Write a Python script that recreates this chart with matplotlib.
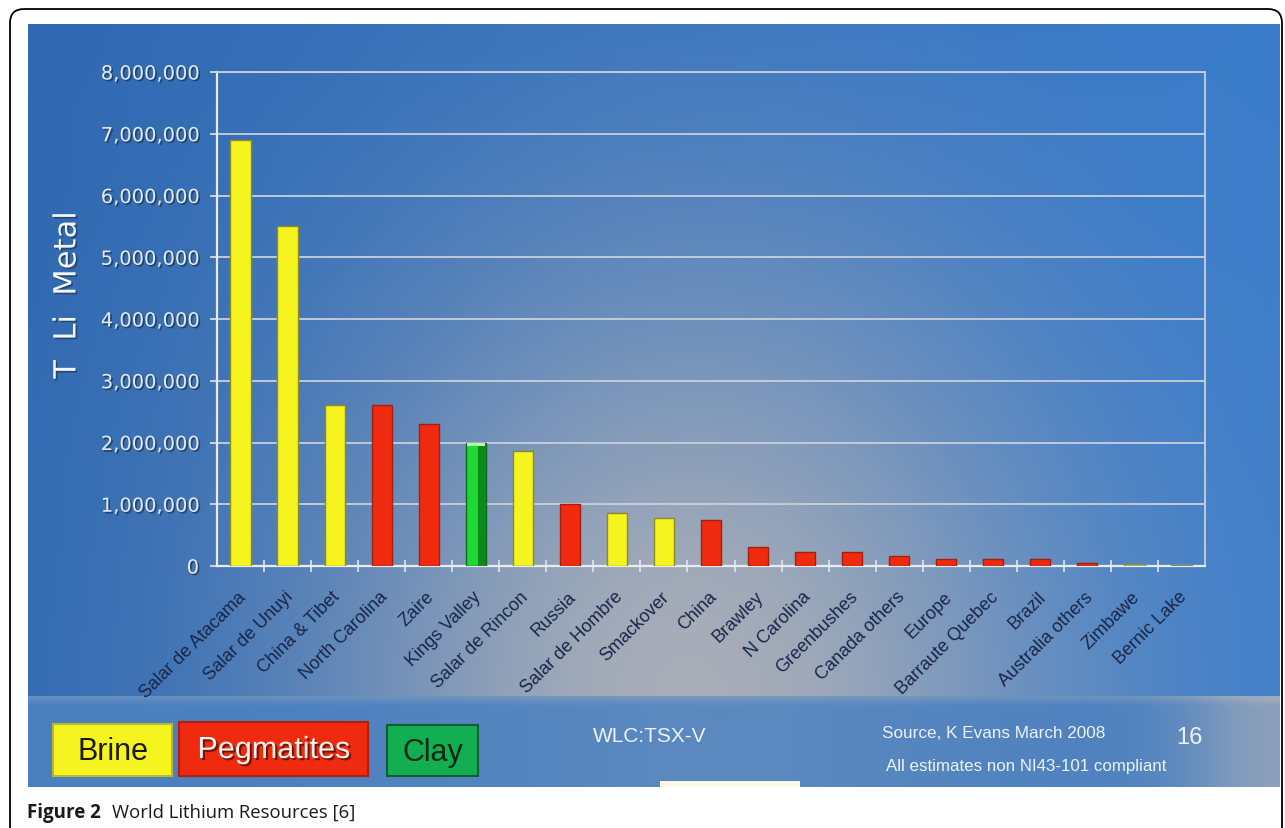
import numpy as np
import matplotlib
matplotlib.use("Agg")
import matplotlib.pyplot as plt
from matplotlib.patches import Rectangle, FancyBboxPatch
from matplotlib.transforms import ScaledTranslation
import matplotlib.patheffects as pe
from matplotlib.ticker import FuncFormatter, FixedLocator

# ---------------- data ----------------
categories = ["Salar de Atacama", "Salar de Unuyi", "China & Tibet", "North Carolina",
              "Zaire", "Kings Valley", "Salar de Rincon", "Russia", "Salar de Hombre",
              "Smackover", "China", "Brawley", "N Carolina", "Greenbushes",
              "Canada others", "Europe", "Barraute Quebec", "Brazil",
              "Australia others", "Zimbawe", "Bernic Lake"]
values = [6900000, 5500000, 2600000, 2600000, 2300000, 2000000, 1870000, 1000000,
          860000, 770000, 750000, 310000, 230000, 230000, 160000, 120000, 110000,
          110000, 50000, 30000, 20000]
types = ["Brine", "Brine", "Brine", "Pegmatites", "Pegmatites", "Clay", "Brine",
         "Pegmatites", "Brine", "Brine", "Pegmatites", "Pegmatites", "Pegmatites",
         "Pegmatites", "Pegmatites", "Pegmatites", "Pegmatites", "Pegmatites",
         "Pegmatites", "Minor", "Minor"]
y_ticks = [0, 1000000, 2000000, 3000000, 4000000, 5000000, 6000000, 7000000, 8000000]
legend_labels = ["Brine", "Pegmatites", "Clay"]

fill = {"Brine": "#f6f41e", "Pegmatites": "#f02a0e", "Clay": "#1fd834", "Minor": "#c4c85a"}
edge = {"Brine": "#8c8a24", "Pegmatites": "#a3200e", "Clay": "#0b6a1a", "Minor": "#8a9040"}

W, H = 1285, 829
fig = plt.figure(figsize=(W / 100, H / 100), dpi=100)
fig.patch.set_facecolor("white")

# ---------------- background (pixel coordinate overlay) ----------------
bg = fig.add_axes([0, 0, 1, 1])
bg.set_xlim(0, W)
bg.set_ylim(H, 0)
bg.axis("off")

def hexrgb(h):
    h = h.lstrip("#")
    return np.array([int(h[i:i + 2], 16) / 255 for i in (0, 2, 4)])

# chart panel gradient
x0, x1, y0, y1 = 28, 1280, 25, 697
xx, yy = np.meshgrid(np.arange(x0, x1) + 0.5, np.arange(y0, y1) + 0.5)
t = (xx - x0) / (x1 - x0)
blueL, blueR = hexrgb("#3069b2"), hexrgb("#3a7ccb")
blue = blueL[None, None, :] * (1 - t[..., None]) + blueR[None, None, :] * t[..., None]
gray = hexrgb("#a9aeb8")
w = np.exp(-((xx - 690) / 380) ** 2 - ((yy - 700) / 450) ** 2)
img = blue * (1 - w[..., None]) + gray[None, None, :] * w[..., None]
bg.imshow(img, extent=(x0, x1, y1, y0), aspect="auto", interpolation="bilinear", zorder=0)

# bottom band gradient
by0, by1 = 697, 788
xx2, yy2 = np.meshgrid(np.arange(x0, x1) + 0.5, np.arange(by0, by1) + 0.5)
bandbase = hexrgb("#4a80c0")
g2 = hexrgb("#9eaabb")
w2 = 0.75 * np.exp(-((xx2 - 1275) / 90) ** 2) + 0.2 * np.exp(-((xx2 - 720) / 320) ** 2) \
     + 0.35 * np.exp(-((yy2 - by0) / 6) ** 2)
w2 = np.clip(w2, 0, 1)
img2 = bandbase[None, None, :] * (1 - w2[..., None]) + g2[None, None, :] * w2[..., None]
bg.imshow(img2, extent=(x0, x1, by1, by0), aspect="auto", interpolation="bilinear", zorder=0)
bg.add_patch(Rectangle((660, 782), 140, 6, facecolor="#fbf9e4", edgecolor="none", zorder=1))

# rounded outer border
bg.add_patch(FancyBboxPatch((10, 10), 1272, 900, boxstyle="round,pad=0,rounding_size=14",
                            facecolor="none", edgecolor="black", linewidth=1.3, zorder=3,
                            clip_on=True))
bg.set_xlim(0, W)
bg.set_ylim(H, 0)

# legend boxes
boxes = [(53, 725, 119, 52, fill["Brine"], "#1a1a10", "#b9b830"),
         (179, 723, 189, 54, fill["Pegmatites"], "#fff4f0", "#b0200c"),
         (387, 726, 91, 51, "#13ad52", "#082a12", "#0a6030")]
for (bx, by, bw, bh, fc, tc, ec), lab in zip(boxes, legend_labels):
    bg.add_patch(Rectangle((bx, by), bw, bh, facecolor=fc, edgecolor=ec, linewidth=1.5, zorder=2))
    txt = bg.text(bx + bw / 2, by + bh / 2 + 1, lab, ha="center", va="center", fontsize=22,
                  family="Liberation Sans", color=tc, zorder=4)
    if lab == "Pegmatites":
        txt.set_path_effects([pe.withSimplePatchShadow(offset=(1.5, -1.5), shadow_rgbFace="#501008", alpha=0.8)])

fkw = dict(family="Liberation Sans", color="#eef2f6", zorder=4)
bg.text(593, 737, "WLC:TSX-V", ha="left", va="center", fontsize=15, **fkw)
bg.text(882, 733, "Source, K Evans March 2008", ha="left", va="center", fontsize=12.3, **fkw)
bg.text(1176, 738, "16", ha="left", va="center", fontsize=17, **fkw)
bg.text(886, 767, "All estimates non NI43-101 compliant", ha="left", va="center", fontsize=12.2, **fkw)

# caption
bg.text(27, 813, "Figure 2", ha="left", va="center", fontsize=13.5, family="Open Sans",
        weight="bold", color="#1a1a1a", zorder=4)
bg.text(112, 813, "World Lithium Resources [6]", ha="left", va="center", fontsize=13.3,
        family="Open Sans", color="#1a1a1a", zorder=4)

# y-axis label
ylab = bg.text(67, 296, "T  Li  Metal", rotation=90, ha="center", va="center", fontsize=22,
               family="DejaVu Sans", color="#f2f6f6", zorder=4)
ylab.set_path_effects([pe.withSimplePatchShadow(offset=(1.2, -1.2), shadow_rgbFace="#1a3050", alpha=0.6)])

# ---------------- main chart ----------------
ax = fig.add_axes([217 / W, 1 - 567 / H, (1205 - 217) / W, (567 - 73) / H])
ax.set_facecolor("none")
xpos = np.arange(len(categories))
bars = ax.bar(xpos, values, width=0.43, color=[fill[t] for t in types],
              edgecolor=[edge[t] for t in types], linewidth=1.0, zorder=3)
# subtle 3D shading on the clay bar (right-side darker strip)
for b, tp in zip(bars, types):
    if tp == "Clay":
        ax.bar(b.get_x() + b.get_width() * 0.8, b.get_height(), width=b.get_width() * 0.4,
               color="#0c8a1e", linewidth=0, zorder=3.5)
        ax.bar(b.get_x() + b.get_width() * 0.5, b.get_height() * 0.03,
               bottom=b.get_height() * 0.97, width=b.get_width() * 0.9,
               color="#b8f5a8", linewidth=0, zorder=3.6)
ax.set_xlim(-0.5, len(categories) - 0.5)
ax.set_ylim(0, 8000000)

ax.yaxis.set_major_locator(FixedLocator(y_ticks))
ax.yaxis.set_major_formatter(FuncFormatter(lambda v, p: f"{int(v):,}"))
ax.yaxis.grid(True, color="#c8d0da", linewidth=1.3, zorder=1)
ax.set_axisbelow(True)

for s in ["left", "bottom"]:
    ax.spines[s].set_color("#e6ecf0")
    ax.spines[s].set_linewidth(1.6)
for s in ["top", "right"]:
    ax.spines[s].set_color("#c8d0da")
    ax.spines[s].set_linewidth(1.3)

ax.tick_params(axis="y", direction="out", length=5, width=1.2, color="#dfe6ec", pad=8,
               labelsize=14, labelcolor="#e4ecef")
for lbl in ax.get_yticklabels():
    lbl.set_family("DejaVu Sans")
    lbl.set_path_effects([pe.withSimplePatchShadow(offset=(1.2, -1.2), shadow_rgbFace="#1c3152", alpha=0.7)])

ax.set_xticks(xpos)
ax.set_xticklabels(categories, rotation=45, ha="right", va="center", rotation_mode="anchor",
                   fontsize=13, family="Liberation Sans", color="#18264a")
ax.tick_params(axis="x", which="major", length=0, pad=20)
ax.set_xticks(np.arange(0.5, len(categories) - 1, 1.0), minor=True)
ax.tick_params(axis="x", which="minor", direction="inout", length=9, width=1.2, color="#dfe6ec")
off = ScaledTranslation(3 / 100, 0, fig.dpi_scale_trans)
for lbl in ax.get_xticklabels():
    lbl.set_transform(lbl.get_transform() + off)

fig.savefig("out.png", dpi=100, facecolor="white")
